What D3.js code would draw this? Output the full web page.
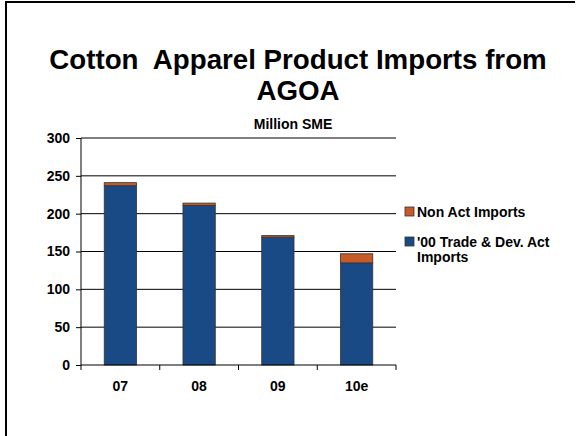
<!DOCTYPE html>
<html><head><meta charset="utf-8">
<script src="https://cdn.jsdelivr.net/npm/d3@7"></script>
<style>body{margin:0;background:#fff}svg{display:block}text{font-family:Arial,"Liberation Sans",sans-serif;font-weight:bold;white-space:pre}</style>
</head><body><div id="c"></div>
<script>
const categories = ["07","08","09","10e"];
const tradeAct = [237, 211, 169, 135];
const nonAct = [4, 3, 2, 12];
const yTicks = [0,50,100,150,200,250,300];
const seriesNames = ["Non Act Imports","'00 Trade & Dev. Act Imports"];
const colors = {trade:"#1a4a86", non:"#c65a28"};

const W=579,H=436;
const svg=d3.select("#c").append("svg").attr("width",W).attr("height",H);
svg.append("line").attr("x1",6).attr("x2",6).attr("y1",1).attr("y2",H).attr("stroke","#000").attr("stroke-width",2);
svg.append("line").attr("x1",5).attr("x2",575).attr("y1",2).attr("y2",2).attr("stroke","#000").attr("stroke-width",2);

svg.append("text").attr("x",298).attr("y",69).attr("text-anchor","middle").style("font-size","27.7px").text("Cotton  Apparel Product Imports from");
svg.append("text").attr("x",298).attr("y",100).attr("text-anchor","middle").style("font-size","27.7px").text("AGOA");
svg.append("text").attr("x",293).attr("y",129).attr("text-anchor","middle").style("font-size","14px").text("Million SME");

const x=d3.scaleBand().domain(categories).range([81,396]).paddingInner(0.59).paddingOuter(0.295);
const xb=d3.scaleBand().domain(categories).range([81,396]);
const y=d3.scaleLinear().domain([0,300]).range([365,138]);

const g=svg.append("g");
g.selectAll("line.grid").data(yTicks.filter(d=>d>0)).join("line")
 .attr("x1",81).attr("x2",396).attr("y1",d=>y(d)).attr("y2",d=>y(d)).attr("stroke","#000").attr("stroke-width",1);

const data=categories.map((c,i)=>({c,t:tradeAct[i],n:nonAct[i]}));
g.selectAll("rect.t").data(data).join("rect")
 .attr("x",d=>x(d.c)).attr("width",x.bandwidth()).attr("y",d=>y(d.t)).attr("height",d=>y(0)-y(d.t))
 .attr("fill",colors.trade).attr("stroke","#333").attr("stroke-width",0.8);
g.selectAll("rect.n").data(data).join("rect")
 .attr("x",d=>x(d.c)).attr("width",x.bandwidth()).attr("y",d=>y(d.t+d.n)).attr("height",d=>y(d.t)-y(d.t+d.n))
 .attr("fill",colors.non).attr("stroke","#333").attr("stroke-width",0.8);

const ya=svg.append("g").attr("transform","translate(81,0)")
 .call(d3.axisLeft(y).tickValues(yTicks).tickSize(5).tickPadding(6));
ya.select(".domain").attr("stroke","#000").attr("d","M0,138V365");
ya.selectAll("text").style("font-size","14px").style("font-weight","bold").attr("fill","#000").attr("font-family","Arial");
ya.selectAll("line").attr("stroke","#000");

const xa=svg.append("g").attr("transform","translate(0,365)");
xa.append("line").attr("x1",81).attr("x2",396).attr("y1",0).attr("y2",0).attr("stroke","#000");
xa.selectAll("line.tk").data(categories.concat(["end"])).join("line")
 .attr("x1",(d,i)=>81+i*xb.bandwidth()).attr("x2",(d,i)=>81+i*xb.bandwidth()).attr("y1",0).attr("y2",5).attr("stroke","#000");
xa.selectAll("text").data(categories).join("text")
 .attr("x",d=>xb(d)+xb.bandwidth()/2).attr("y",26).attr("text-anchor","middle").style("font-size","14px").text(d=>d);

const lg=svg.append("g");
lg.append("rect").attr("x",405).attr("y",207).attr("width",9).attr("height",9).attr("fill",colors.non).attr("stroke","#333").attr("stroke-width",0.8);
lg.append("text").attr("x",417).attr("y",217).style("font-size","14px").text(seriesNames[0]);
lg.append("rect").attr("x",405).attr("y",237).attr("width",9).attr("height",9).attr("fill",colors.trade).attr("stroke","#333").attr("stroke-width",0.8);
lg.append("text").attr("x",417).attr("y",247).style("font-size","14px").text("'00 Trade & Dev. Act");
lg.append("text").attr("x",417).attr("y",262).style("font-size","14px").text("Imports");
</script></body></html>
